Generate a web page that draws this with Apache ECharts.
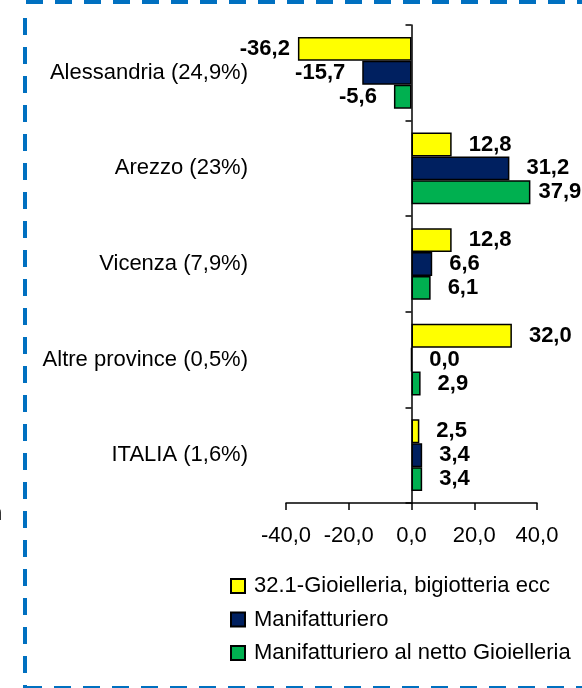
<!DOCTYPE html>
<html>
<head>
<meta charset="utf-8">
<script src="https://cdn.jsdelivr.net/npm/echarts@6/dist/echarts.min.js"></script>
<style>
html,body{margin:0;padding:0;background:#fff;}
#chart{width:582px;height:688px;}
</style>
</head>
<body>
<div id="chart"></div>
<script>
const categories = ['Alessandria (24,9%)', 'Arezzo (23%)', 'Vicenza (7,9%)', 'Altre province (0,5%)', 'ITALIA (1,6%)'];
const seriesNames = ['32.1-Gioielleria, bigiotteria ecc', 'Manifatturiero', 'Manifatturiero al netto Gioielleria'];
const gioielleria = [-36.2, 12.8, 12.8, 32.0, 2.5];
const manifatturiero = [-15.7, 31.2, 6.6, 0.0, 3.4];
const manifNetto = [-5.6, 37.9, 6.1, 2.9, 3.4];
const xMin = -40, xMax = 40, xStep = 20;

const FONT = "'Liberation Sans', Arial, sans-serif";
const colors = ['#FFFF00', '#002060', '#00B050'];
const fmt = v => v.toFixed(1).replace('.', ',');

function makeData(arr) {
  return arr.map(v => ({
    value: v,
    label: {
      position: v < 0 ? 'left' : 'right',
      distance: Math.abs(v) > 35 ? 8 : 17
    }
  }));
}

function makeSeries(name, arr, color) {
  return {
    name: name,
    type: 'bar',
    barGap: '0%',
    barCategoryGap: '25%',
    data: makeData(arr),
    itemStyle: { color: color, borderColor: '#000', borderWidth: 1.5 },
    label: {
      show: true,
      fontFamily: FONT,
      fontWeight: 'bold',
      fontSize: 22,
      color: '#000',
      formatter: p => fmt(p.value)
    }
  };
}

const chart = echarts.init(document.getElementById('chart'), null, { renderer: 'canvas' });
chart.setOption({
  animation: false,
  backgroundColor: '#fff',
  textStyle: { fontFamily: FONT },
  grid: { left: 286, right: 45, top: 25, bottom: 185, containLabel: false, outerBoundsMode: 'none' },
  xAxis: {
    type: 'value',
    min: xMin, max: xMax, interval: xStep,
    axisLine: { show: true, lineStyle: { color: '#000', width: 1.5 } },
    axisTick: { show: true, length: 7, lineStyle: { color: '#000', width: 1.5 } },
    splitLine: { show: false },
    axisLabel: { fontFamily: FONT, fontSize: 22, color: '#000', margin: 22, formatter: v => fmt(v) }
  },
  yAxis: {
    type: 'category',
    inverse: true,
    data: categories,
    axisLine: { show: true, onZero: true, lineStyle: { color: '#000', width: 1.5 } },
    axisTick: { show: true, length: 6, lineStyle: { color: '#000', width: 1.5 } },
    axisLabel: { fontFamily: FONT, fontSize: 22, color: '#000', margin: 38 }
  },
  legend: {
    orient: 'vertical',
    left: 230,
    top: 573,
    height: 150,
    padding: 0,
    itemWidth: 14,
    itemHeight: 14,
    itemGap: 7.5,
    icon: 'rect',
    textStyle: { fontFamily: FONT, fontSize: 22, color: '#000', lineHeight: 26, padding: [0, 0, 0, 4] },
    data: seriesNames
  },
  series: [
    makeSeries(seriesNames[0], gioielleria, colors[0]),
    makeSeries(seriesNames[1], manifatturiero, colors[1]),
    makeSeries(seriesNames[2], manifNetto, colors[2])
  ],
  graphic: [
    { type: 'polyline', shape: { points: [[26, 2], [582, 2]] }, style: { stroke: '#0070C0', fill: null, lineWidth: 4, lineDash: [17, 12] }, silent: true },
    { type: 'polyline', shape: { points: [[25, 18], [25, 688]] }, style: { stroke: '#0070C0', fill: null, lineWidth: 4, lineDash: [17, 12] }, silent: true },
    { type: 'polyline', shape: { points: [[25, 688], [582, 688]] }, style: { stroke: '#0070C0', fill: null, lineWidth: 4, lineDash: [17, 12] }, silent: true },
    { type: 'text', left: -10, top: 503, style: { text: 'n', fontFamily: FONT, fontSize: 22, fill: '#000' }, silent: true }
  ]
});
</script>
</body>
</html>
